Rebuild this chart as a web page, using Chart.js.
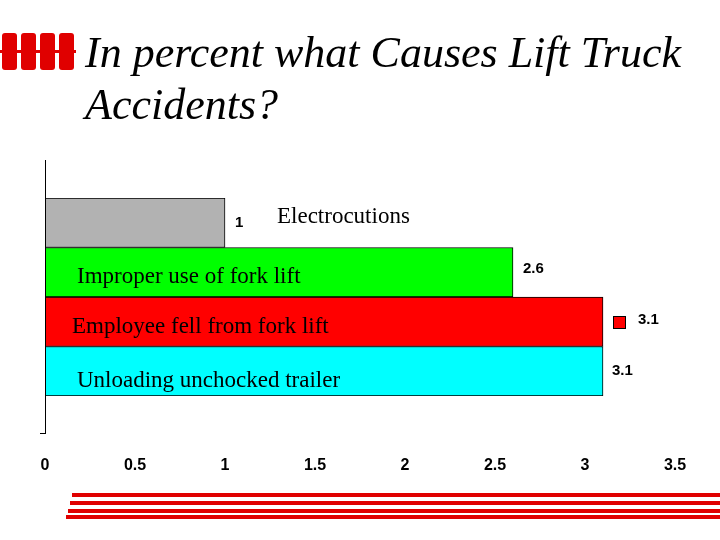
<!DOCTYPE html>
<html><head><meta charset="utf-8">
<script src="https://cdn.jsdelivr.net/npm/chart.js@4"></script>
<style>html,body{margin:0;background:#fff}#w{width:720px;height:540px}</style>
</head><body><div id="w"><canvas id="c"></canvas></div>
<script>
const categories = ["Electrocutions","Improper use of fork lift","Employee fell from fork lift","Unloading unchocked trailer"];
const values = [1, 2.6, 3.1, 3.1];
const colors = ["#b2b2b2","#00ff00","#ff0000","#00ffff"];
const valueLabels = ["1","2.6","3.1","3.1"];
const tickLabels = {0:"0",0.5:"0.5",1:"1",1.5:"1.5",2:"2",2.5:"2.5",3:"3",3.5:"3.5"};

const deco = {
  id:'deco',
  afterDraw(chart){
    const ctx = chart.ctx, ys = chart.scales.y;
    ctx.save();
    ctx.fillStyle='#000'; ctx.font='italic 44px "Liberation Serif"'; ctx.textBaseline='alphabetic';
    ctx.fillText('In percent what Causes Lift Truck',85,67);
    ctx.fillText('Accidents?',85,119);
    ctx.fillStyle='#e00000';
    for(let i=0;i<4;i++){ctx.beginPath();ctx.roundRect(2+i*19,33,15,37,3);ctx.fill();}
    ctx.fillRect(0,50,76,3);
    [[493,72],[501,70],[509,68],[515,66]].forEach(([y,x])=>{ctx.fillRect(x,y,720-x,4);});
    ctx.strokeStyle='#000'; ctx.lineWidth=1;
    ctx.beginPath(); ctx.moveTo(45.5,160); ctx.lineTo(45.5,433); ctx.moveTo(40,433.5); ctx.lineTo(46,433.5); ctx.stroke();
    ctx.fillStyle='#000';
    ctx.font='23px "Liberation Serif"'; ctx.textBaseline='middle';
    const pos=[[277,-6],[77,5],[72,5],[77,10]];
    categories.forEach((c,i)=>{ctx.fillText(c,pos[i][0],ys.getPixelForValue(i)+pos[i][1]);});
    ctx.font='bold 15px "Liberation Sans"';
    const vpos=[[235,0],[523,-3],[638,-2],[612,0]];
    values.forEach((v,i)=>{ctx.fillText(valueLabels[i],vpos[i][0],ys.getPixelForValue(i)+vpos[i][1]);});
    ctx.fillStyle='#ff0000';
    ctx.fillRect(613,316,12,12); ctx.strokeRect(613.5,316.5,12,12);
    ctx.restore();
  }
};

new Chart(document.getElementById('c'),{
  type:'bar',
  data:{labels:categories,datasets:[{data:values,backgroundColor:colors,borderColor:'#000',borderWidth:1,barPercentage:1,categoryPercentage:1}]},
  options:{
    indexAxis:'y',responsive:true,maintainAspectRatio:false,animation:false,
    layout:{padding:{top:198,bottom:0,left:45,right:45}},
    plugins:{legend:{display:false},tooltip:{enabled:false}},
    scales:{
      x:{min:0,max:3.5,grid:{display:false},border:{display:false},
         ticks:{stepSize:0.5,padding:52,color:'#000',font:{family:'Liberation Sans',weight:'bold',size:16},
                callback:v=>tickLabels[v] ?? ''},
         afterFit(s){s.height=144;s.paddingLeft=0;s.paddingRight=0;}},
      y:{display:false}
    }
  },
  plugins:[deco]
});
</script></body></html>
